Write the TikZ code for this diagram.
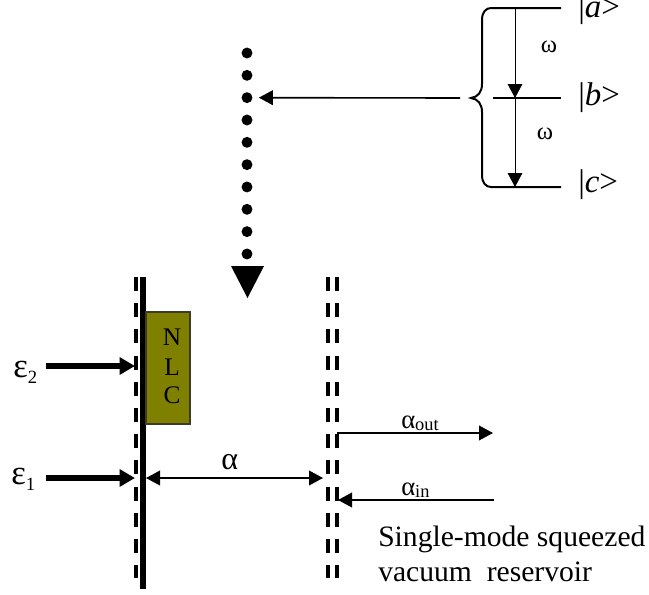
\documentclass[tikz,border=0pt]{standalone}
\usepackage{fontspec}
\setmainfont{Liberation Serif}
\usetikzlibrary{arrows.meta}
\tikzset{
  txt/.style={inner sep=0pt,anchor=base west,text=black},
  big/.style={txt,font=\fontsize{22.2pt}{26pt}\selectfont},
  ket/.style={txt,font=\fontsize{24.7pt}{28pt}\selectfont},
  omega/.style={txt,anchor=base,font=\fontsize{18.5pt}{22pt}\selectfont},
  nlcletter/.style={txt,anchor=center,font=\fontsize{19pt}{22pt}\selectfont},
  eps/.style={txt,font=\fontsize{26pt}{30pt}\selectfont},
  alab/.style={txt,font=\fontsize{20pt}{24pt}\selectfont},
  level/.style={line width=1.5pt,line cap=butt},
  dashmirror/.style={line width=3pt,dash pattern=on 10.5pt off 9.15pt},
  solidmirror/.style={line width=3.9pt},
  thinarrow/.style={line width=0.6pt,-{Triangle[length=10.5pt,width=11pt]}},
  medarrow/.style={line width=1.2pt,-{Triangle[length=10.5pt,width=11pt]}},
  fatarrow/.style={line width=4.3pt,-{Triangle[length=11.5pt,width=12.5pt]}},
  dotnode/.style={circle,fill=black,inner sep=0pt,minimum size=8.2pt},
  nlc/.style={draw=black!75!olive,line width=0.8pt,fill=olive0,minimum width=33pt,minimum height=84pt,inner sep=0pt},
}
\definecolor{olive0}{HTML}{808000}
\newcommand{\subtwo}[3]{\raisebox{-#3em}{\fontsize{#1}{#1}\selectfont #2}}
\begin{document}
\begin{tikzpicture}[x=0.75pt,y=-0.75pt]
\useasboundingbox (0,0) rectangle (649,594);
% dots
\foreach \i in {0,...,9}{
  \node[dotnode] (d\i) at (247,{53+22.33*\i}) {};
}
\coordinate (tl) at (231,266); \coordinate (tr) at (264,266); \coordinate (tb) at (247.5,298);
\fill (tl) -- (tr) -- (tb) -- cycle;
% levels
\coordinate (aR) at (561,8); \coordinate (bL) at (493,98); \coordinate (bR) at (561,98); \coordinate (cR) at (561,187);
\coordinate (a0) at (515,8); \coordinate (b0) at (515,98); \coordinate (c0) at (515,187);
\coordinate (tip) at (471,98); \coordinate (tail) at (460,98);
\draw[level] (aR) -- (491,8) .. controls (486,8) and (482,12) .. (482,20) -- (482,84)
  .. controls (482,92) and (478,97) .. (tip) .. controls (478,99) and (482,104) .. (482,112)
  -- (482,175) .. controls (482,183) and (486,187) .. (491,187) -- (cR);
\draw[level] (bL) -- (bR);
\draw[thinarrow] (a0) -- (b0);
\draw[thinarrow] (b0) -- (c0);
\draw[medarrow,shorten >=4.6pt] (tail) -- (d2.east);
\node[omega] (w1) at (549,52) {ω};
\node[omega] (w2) at (545,139) {ω};
\node[ket] (la) at (578,17) {|\textit{a}>};
\node[ket] (lb) at (578,105) {|\textit{b}>};
\node[ket] (lc) at (578,192) {|\textit{c}>};
% mirrors
\coordinate (m1t) at (136,277); \coordinate (m1b) at (136,578);
\coordinate (m2t) at (143,277); \coordinate (m2b) at (143,589);
\coordinate (m3t) at (328,277); \coordinate (m3b) at (328,578);
\coordinate (m4t) at (337,277); \coordinate (m4b) at (337,578);
\draw[dashmirror] (m1t) -- (m1b);
\draw[solidmirror] (m2t) -- (m2b);
\draw[dashmirror] (m3t) -- (m3b);
\draw[dashmirror] (m4t) -- (m4b);
% NLC
\node[nlc] (box) at (168,368) {};
\node[nlcletter] (N) at (172,337) {N};
\node[nlcletter] (L) at (172,367) {L};
\node[nlcletter] (C) at (172,395) {C};
% pumps
\coordinate (e2s) at (46,366); \coordinate (e2e) at (135,366);
\coordinate (e1s) at (46,478); \coordinate (e1e) at (135,478);
\draw[fatarrow] (e2s) -- (e2e);
\draw[fatarrow] (e1s) -- (e1e);
\node[eps] (e2) at (13,377) {ε\subtwo{14pt}{2}{0.2}};
\node[eps] (e1) at (11,484) {ε\subtwo{14pt}{1}{0.2}};
% cavity
\coordinate (aL) at (146,478); \coordinate (aRt) at (323,478);
\draw[medarrow,{Triangle[length=10.5pt,width=11pt]}-{Triangle[length=10.5pt,width=11pt]}] (aL) -- (aRt);
\node[eps,font=\fontsize{24pt}{28pt}\selectfont] (alpha) at (221,469) {α};
% output
\coordinate (os) at (337,433); \coordinate (oe) at (493,433);
\coordinate (is) at (494,500); \coordinate (ie) at (338,500);
\draw[medarrow] (os) -- (oe);
\draw[medarrow] (is) -- (ie);
\node[alab] (aout) at (401,428) {α\subtwo{13.8pt}{out}{0.08}};
\node[alab] (ain) at (401,495) {α\subtwo{13.8pt}{in}{0.08}};
\node[big] (t1) at (378,546) {Single-mode squeezed};
\node[big] (t2) at (378,581) {vacuum\ \ reservoir};
\end{tikzpicture}
\end{document}
